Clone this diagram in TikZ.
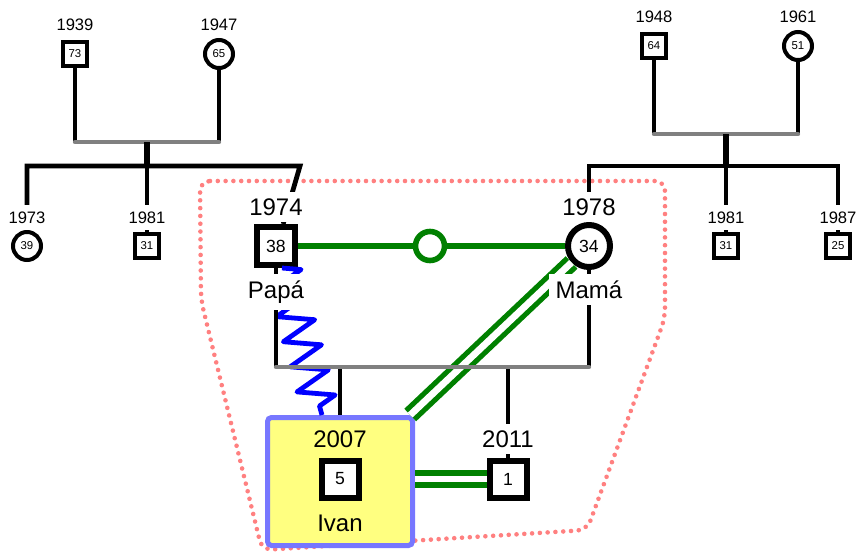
\documentclass[tikz,border=0pt]{standalone}
\usepackage{fontspec}
\setmainfont{Liberation Sans}
\usetikzlibrary{decorations.pathmorphing}
\definecolor{relgreen}{RGB}{0,128,0}
\definecolor{focuspink}{RGB}{255,128,128}
\definecolor{idfill}{RGB}{255,255,128}
\definecolor{idedge}{RGB}{119,119,255}
\definecolor{barcol}{RGB}{128,128,128}

\begin{document}
\begin{tikzpicture}[
  x=0.5pt, y=-0.5pt,
  man/.style={draw, rectangle, line width=2pt, minimum size=12pt, inner sep=0pt,
    fill=white, font=\fontsize{5.7}{6}\selectfont},
  woman/.style={draw, circle, line width=2pt, minimum size=14pt, inner sep=0pt,
    fill=white, font=\fontsize{5.7}{6}\selectfont},
  bigman/.style={man, line width=3pt, minimum size=19pt, font=\fontsize{8.8}{10}\selectfont},
  bigwoman/.style={woman, line width=3pt, minimum size=21pt, font=\fontsize{8.8}{10}\selectfont},
  kid/.style={man, line width=3pt, minimum size=18.5pt, font=\fontsize{8.8}{10}\selectfont},
  yr/.style={fill=white, anchor=base, font=\fontsize{8.3}{10}\selectfont},
  bigyr/.style={fill=white, anchor=base, font=\fontsize{12}{14}\selectfont},
  kin/.style={line width=2.2pt},
  sibbar/.style={line width=2.4pt},
  stemln/.style={line width=3pt},
  couplebar/.style={barcol, line width=2.2pt, line cap=round},
  childln/.style={line width=1.6pt},
  tierel/.style={relgreen, line width=2.8pt},
  fused/.style={relgreen, line width=2.6pt, double=white, double distance=3.4pt},
  hostile/.style={blue, line width=2.4pt, line join=round, decorate,
    decoration={zigzag, segment length=13pt, amplitude=9pt}},
  focus/.style={focuspink, line width=2.3pt, line cap=round,
    dash pattern=on 0pt off 3.9pt, rounded corners=5pt}
]
  \useasboundingbox (0,0) rectangle (859,553);

  \draw[focus] (200,181) -- (665,181) -- (665,318) -- (587,530)
    -- (262,550) -- (201,300) -- cycle;

  \node[man] (lgpa) at (75,54) {73};
  \node[woman] (lgma) at (219,54) {65};
  \node[woman] (launt) at (27,246) {39};
  \node[man] (luncle) at (147,246) {31};
  \node[man] (rgpa) at (654,46) {64};
  \node[woman] (rgma) at (798,46) {51};
  \node[man] (runcle) at (726,246) {31};
  \node[man] (runcle2) at (838,246) {25};
  \node[bigman] (papa) at (276,246) {38};
  \node[bigwoman] (mama) at (589,246) {34};
  \node[draw=relgreen, circle, line width=2.8pt, minimum size=14.5pt,
        inner sep=0pt, fill=white] (marr) at (430,246) {};

  \node[draw=idedge, fill=idfill, line width=2.5pt, rounded corners=2pt,
        minimum width=72.5pt, minimum height=64pt] (ivan) at (340,481.5) {};
  \node[kid] (ivansq) at (340,479) {5};
  \node[kid] (son) at (508,479) {1};

  \coordinate (lbar) at (147,142);
  \coordinate (lsib) at (147,166);
  \coordinate (lsibend) at (300,166);
  \coordinate (rbar) at (726,134);
  \coordinate (rsib) at (726,166);
  \coordinate (pbar) at (430,367);

  \draw[kin] (lgpa) -- (lgpa |- lbar);
  \draw[kin] (lgma) -- (lgma |- lbar);
  \draw[couplebar] (lgpa |- lbar) -- (lgma |- lbar);
  \draw[stemln] (lbar) -- (lsib);
  \draw[sibbar] (launt) -- (launt |- lsib) -- (lsibend) -- (papa.72);
  \draw[sibbar] (luncle) -- (luncle |- lsib);

  \draw[kin] (rgpa) -- (rgpa |- rbar);
  \draw[kin] (rgma) -- (rgma |- rbar);
  \draw[couplebar] (rgpa |- rbar) -- (rgma |- rbar);
  \draw[stemln] (rbar) -- (rsib);
  \draw[sibbar] (mama) -- (mama |- rsib) -- (runcle2 |- rsib) -- (runcle2);
  \draw[sibbar] (runcle) -- (runcle |- rsib);

  \draw[tierel] (papa) -- (marr) -- (mama);
  \draw[hostile] (papa) -- (ivan);
  \draw[fused] (mama) -- (ivan);
  \draw[fused] (ivan.east |- son) -- (son);

  \draw[childln] (papa) -- (papa |- pbar);
  \draw[childln] (mama) -- (mama |- pbar);
  \draw[childln] (ivan.north |- pbar) -- (ivan);
  \draw[childln] (son |- pbar) -- (son);
  \draw[couplebar] (papa |- pbar) -- (mama |- pbar);

  \node[yr] (lgpayr) at (75,30) {1939};
  \node[yr] (lgmayr) at (219,30) {1947};
  \node[yr] (rgpayr) at (654,22) {1948};
  \node[yr] (rgmayr) at (798,22) {1961};
  \node[yr] (launtyr) at (27,223) {1973};
  \node[yr] (luncleyr) at (147,223) {1981};
  \node[yr] (runcleyr) at (726,223) {1981};
  \node[yr] (runcle2yr) at (838,223) {1987};
  \node[bigyr] (papayr) at (276,215) {1974};
  \node[bigyr] (mamayr) at (589,215) {1978};
  \node[bigyr] (papaname) at (276,298) {Papá};
  \node[bigyr] (mamaname) at (589,298) {Mamá};
  \node[bigyr, fill=none] (ivanyr) at (340,447) {2007};
  \node[bigyr, fill=none] (ivanname) at (340,531) {Ivan};
  \node[bigyr] (sonyr) at (508,447) {2011};
\end{tikzpicture}
\end{document}
